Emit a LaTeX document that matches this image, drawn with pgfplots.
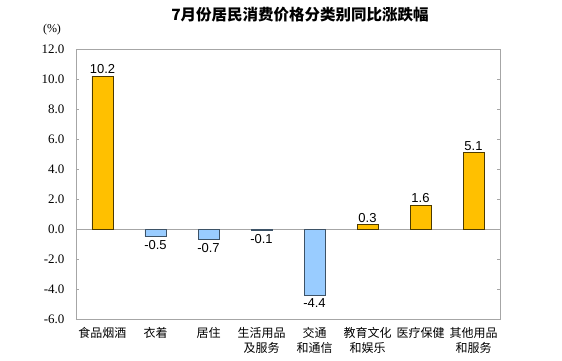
\documentclass[border=0pt]{standalone}
\usepackage{pgfplots}
\pgfplotsset{compat=1.18}
\usepackage{fontspec}
\setmainfont{Liberation Serif}
\newfontfamily\cjk{Noto Sans CJK SC}
\newfontfamily\arial{Liberation Sans}
\definecolor{barorange}{HTML}{FFC000}
\definecolor{barblue}{HTML}{99CCFF}
\definecolor{axisgray}{HTML}{A6A6A6}
\begin{document}
\begin{tikzpicture}[x=1pt,y=1pt]
\path (-76,-41) rectangle (486,319);
\begin{axis}[
  at={(0,0)}, anchor=south west,
  scale only axis, width=424pt, height=270pt,
  xmin=-0.5, xmax=7.5, ymin=-6, ymax=12,
  ytick={-6,-4,...,12},
  yticklabel style={/pgf/number format/fixed,/pgf/number format/fixed zerofill,/pgf/number format/precision=1, xshift=-8pt, font=\fontsize{13}{14}\selectfont},
  /pgf/number format/assume math mode=true,
  xtick={0,...,7},
  xticklabels={食品烟酒,衣着,居住,生活用品\\及服务,交通\\和通信,教育文化\\和娱乐,医疗保健,其他用品\\和服务},
  xticklabel style={font=\cjk\fontsize{12}{15}\selectfont, align=center, anchor=north, yshift=-2pt},
  major x tick style={draw=none},
  major y tick style={draw=axisgray},
  tick align=inside, major tick length=3pt,
  axis line style={draw=axisgray},
  ybar, bar width=21pt,
  nodes near coords,
  every node near coord/.append style={font=\arial\fontsize{13}{14}\selectfont, inner sep=2pt, /pgf/number format/fixed, /pgf/number format/fixed zerofill, /pgf/number format/precision=1, /pgf/number format/assume math mode=true},
  extra y ticks={0}, extra y tick labels={},
  extra y tick style={grid=major, major grid style={draw=axisgray, thin}, major tick length=0pt},
  clip=false,
]
\addplot[bar shift=0pt, fill=barorange, draw=black!70!barorange, line width=0.5pt] coordinates {(0,10.2) (5,0.3) (6,1.6) (7,5.1)};
\addplot[bar shift=0pt, fill=barblue, draw=black!60!barblue, line width=0.5pt, nodes near coords align={below}, every node near coord/.append style={inner sep=3.5pt}] coordinates {(1,-0.5) (2,-0.7) (3,-0.1) (4,-4.4)};
\end{axis}
\node[font=\cjk\bfseries\fontsize{15.5}{17}\selectfont] at (224,304) {7月份居民消费价格分类别同比涨跌幅};
\node[font=\fontsize{12}{13}\selectfont] at (-24,289) {(\%)};
\end{tikzpicture}
\end{document}
